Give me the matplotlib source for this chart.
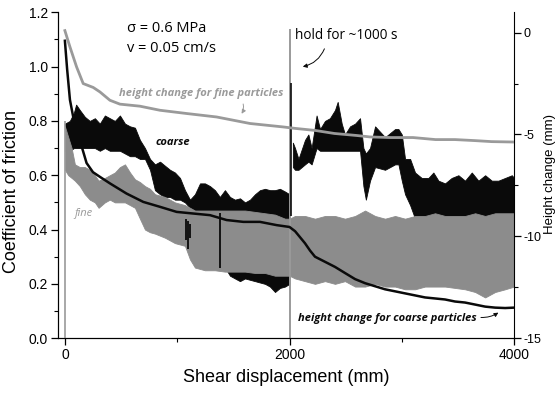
import matplotlib
matplotlib.use('Agg')
from matplotlib import pyplot as plt
from matplotlib.ticker import MultipleLocator, FixedLocator

plt.rcParams['font.family'] = ['Liberation Sans', 'DejaVu Sans']
plt.rcParams['axes.unicode_minus'] = False

# coarse particles: envelope of friction record (mm, -)
coarse_x = [0, 44, 80, 100, 133, 178, 222, 267, 311, 356, 400, 445, 490, 535, 580,
            624, 668, 713, 758, 802, 847, 891, 936, 980, 1025, 1069, 1114, 1158, 1203,
            1247, 1292, 1336, 1380, 1425, 1470, 1514, 1559, 1604, 1648, 1693, 1737,
            1782, 1826, 1871, 1915, 1960, 2000]
coarse_hi = [0.79, 0.80, 0.83, 0.86, 0.84, 0.815, 0.80, 0.81, 0.79, 0.82, 0.81, 0.80,
             0.82, 0.79, 0.78, 0.775, 0.73, 0.70, 0.66, 0.64, 0.65, 0.635, 0.62, 0.61,
             0.59, 0.545, 0.51, 0.53, 0.57, 0.57, 0.56, 0.545, 0.52, 0.545, 0.52, 0.51,
             0.515, 0.50, 0.51, 0.53, 0.545, 0.55, 0.545, 0.545, 0.55, 0.54, 0.53]
coarse_lo = [0.69, 0.69, 0.70, 0.70, 0.70, 0.70, 0.70, 0.70, 0.69, 0.70, 0.69, 0.69,
             0.69, 0.68, 0.67, 0.67, 0.66, 0.66, 0.62, 0.545, 0.53, 0.52, 0.52, 0.51,
             0.51, 0.50, 0.48, 0.47, 0.46, 0.46, 0.46, 0.46, 0.46, 0.26, 0.23, 0.22,
             0.21, 0.22, 0.215, 0.21, 0.205, 0.20, 0.19, 0.17, 0.185, 0.19, 0.20]

# coarse particles after the hold
coarse2_x = [2030, 2049, 2080, 2138, 2168, 2197, 2241, 2272, 2316, 2360, 2405, 2429,
             2465, 2494, 2539, 2584, 2628, 2658, 2680, 2717, 2762, 2851, 2940, 2970,
             3000, 3029, 3074, 3118, 3177, 3237, 3281, 3326, 3385, 3444, 3504, 3563,
             3623, 3682, 3742, 3801, 3860, 3920, 3980, 4000]
coarse2_hi = [0.72, 0.70, 0.66, 0.73, 0.75, 0.70, 0.82, 0.77, 0.80, 0.81, 0.84, 0.87,
              0.79, 0.75, 0.78, 0.79, 0.81, 0.70, 0.68, 0.70, 0.78, 0.74, 0.77, 0.77,
              0.75, 0.66, 0.66, 0.61, 0.59, 0.59, 0.61, 0.58, 0.57, 0.59, 0.60, 0.58,
              0.61, 0.58, 0.60, 0.58, 0.58, 0.59, 0.60, 0.59]
coarse2_lo = [0.63, 0.62, 0.62, 0.64, 0.65, 0.64, 0.70, 0.69, 0.69, 0.69, 0.69, 0.69,
              0.69, 0.69, 0.69, 0.69, 0.69, 0.56, 0.51, 0.58, 0.63, 0.62, 0.64, 0.64,
              0.58, 0.53, 0.49, 0.44, 0.43, 0.42, 0.42, 0.42, 0.42, 0.42, 0.42, 0.42,
              0.42, 0.42, 0.42, 0.42, 0.42, 0.42, 0.42, 0.42]

# fine particles: envelope of friction record
fine_x = [0, 30, 60, 89, 133, 178, 222, 267, 300, 356, 400, 445, 490, 535, 580, 624,
          668, 713, 758, 802, 891, 980, 1069, 1114, 1158, 1247, 1336, 1425, 1514, 1604,
          1693, 1782, 1871, 1960, 2000, 2049, 2138, 2227, 2316, 2405, 2494, 2584, 2673,
          2762, 2851, 2940, 3029, 3118, 3207, 3296, 3385, 3474, 3563, 3653, 3742, 3831,
          3920, 4000]
fine_hi = [0.78, 0.74, 0.70, 0.64, 0.63, 0.63, 0.62, 0.60, 0.58, 0.59, 0.60, 0.61,
           0.63, 0.64, 0.61, 0.585, 0.575, 0.56, 0.55, 0.53, 0.52, 0.50, 0.49, 0.48,
           0.47, 0.47, 0.47, 0.47, 0.47, 0.47, 0.465, 0.46, 0.455, 0.44, 0.44, 0.45,
           0.45, 0.44, 0.45, 0.45, 0.44, 0.45, 0.47, 0.45, 0.44, 0.45, 0.44, 0.45, 0.45,
           0.46, 0.45, 0.45, 0.45, 0.46, 0.45, 0.46, 0.46, 0.46]
fine_lo = [0.62, 0.60, 0.59, 0.58, 0.56, 0.53, 0.51, 0.50, 0.48, 0.50, 0.51, 0.50,
           0.50, 0.50, 0.49, 0.48, 0.44, 0.40, 0.39, 0.385, 0.37, 0.35, 0.34, 0.29,
           0.26, 0.25, 0.25, 0.245, 0.245, 0.245, 0.24, 0.24, 0.23, 0.23, 0.23, 0.22,
           0.21, 0.20, 0.21, 0.20, 0.21, 0.19, 0.19, 0.20, 0.19, 0.19, 0.18, 0.18, 0.19,
           0.19, 0.19, 0.185, 0.18, 0.17, 0.15, 0.17, 0.18, 0.19]

# isolated stick-slip drops in the coarse record
spike_x = [1080, 1095, 1110, 1380]
spike_lo = [0.36, 0.33, 0.37, 0.26]
spike_hi = [0.44, 0.43, 0.42, 0.46]

# start of shear and the ~1000 s hold
hold_x = 2005
hold_coarse = [0.45, 0.94]
hold_fine = [0.0, 1.14]
start_fine = [0.0, 0.80]

# height change (mm)
hfine_x = [0, 45, 104, 163, 252, 312, 401, 490, 668, 846, 1084, 1351, 1648, 1945,
           2049, 2227, 2400, 2600, 2717, 2900, 3100, 3300, 3474, 3650, 3800, 4000]
hfine = [0.1, -0.7, -1.68, -2.5, -2.69, -2.91, -3.32, -3.51, -3.61, -3.81, -3.97,
         -4.14, -4.46, -4.63, -4.7, -4.8, -4.95, -5.05, -5.12, -5.15, -5.15, -5.25,
         -5.25, -5.3, -5.35, -5.37]
hcoarse_x = [0, 20, 45, 90, 134, 193, 250, 312, 401, 549, 698, 846, 995, 1143, 1292,
             1440, 1589, 1737, 1886, 2000, 2050, 2138, 2183, 2227, 2405, 2494, 2584,
             2673, 2762, 2851, 2940, 3029, 3118, 3207, 3296, 3385, 3474, 3563, 3653,
             3742, 3831, 3920, 4000]
hcoarse = [-0.4, -1.8, -3.3, -4.6, -5.3, -6.4, -6.85, -7.08, -7.4, -7.9, -8.31, -8.55,
           -8.8, -8.88, -8.96, -9.2, -9.29, -9.29, -9.45, -9.54, -9.75, -10.34, -10.7,
           -11.0, -11.5, -11.8, -12.1, -12.3, -12.45, -12.6, -12.7, -12.8, -12.9, -13.0,
           -13.05, -13.1, -13.2, -13.25, -13.35, -13.45, -13.5, -13.52, -13.5]

black = '#0a0a0a'
grey = '#8c8c8c'
lgrey = '#9a9a9a'

fig = plt.figure(figsize=(5.57, 3.96), dpi=100)
ax = fig.add_axes([0.104, 0.146, 0.819, 0.823])
ax2 = ax.twinx()

ax.fill_between(coarse_x, coarse_lo, coarse_hi, color=black, lw=0.6, zorder=2)
ax.fill_between(coarse2_x, coarse2_lo, coarse2_hi, color=black, lw=0.6, zorder=2)
ax.fill_between(fine_x, fine_lo, fine_hi, color=grey, lw=0.6, zorder=3)
ax.vlines(spike_x, spike_lo, spike_hi, color=black, lw=1.3, zorder=4)
ax.vlines([0], *start_fine, color=lgrey, lw=1.2, zorder=4)
ax.vlines([hold_x], *hold_fine, color=lgrey, lw=1.4, zorder=4)
ax.vlines([hold_x + 10], *hold_coarse, color=black, lw=1.2, zorder=4)

ax.set_xlim(-62, 4000)
ax.set_ylim(0, 1.2)
ax2.set_ylim(-15, 1.0)

ax2.plot(hfine_x, hfine, color=lgrey, lw=2.0, zorder=5)
ax2.plot(hcoarse_x, hcoarse, color=black, lw=1.8, zorder=5)

for a in (ax, ax2):
    a.spines['top'].set_visible(False)
    a.patch.set_visible(False)
ax.spines['right'].set_visible(False)

ax.xaxis.set_major_locator(FixedLocator([0, 2000, 4000]))
ax.xaxis.set_minor_locator(FixedLocator([1000, 3000]))
ax.yaxis.set_major_locator(MultipleLocator(0.2))
ax.yaxis.set_minor_locator(MultipleLocator(0.1))
ax.set_yticklabels(['%.1f' % v for v in ax.get_yticks()])
ax2.yaxis.set_major_locator(FixedLocator([0, -5, -10, -15]))
ax2.yaxis.set_minor_locator(FixedLocator([-2.5, -7.5, -12.5]))
ax2.set_yticklabels(['0', '-5', '-10', '-15'])

ax.tick_params(which='major', direction='out', length=5, width=0.9, labelsize=10, pad=2)
ax.tick_params(which='minor', direction='out', length=3, width=0.8)
ax2.tick_params(which='major', direction='out', length=5, width=0.9, labelsize=9, pad=2)
ax2.tick_params(which='minor', direction='out', length=3, width=0.8)

ax.set_xlabel('Shear displacement (mm)', fontsize=13, labelpad=5)
ax.set_ylabel('Coefficient of friction', fontsize=13)
ax.yaxis.set_label_coords(-0.083, 0.45)
ax2.set_ylabel('Height change (mm)', fontsize=9.5)
ax2.yaxis.set_label_coords(1.066, 0.505)

ann = dict(family=['Open Sans', 'DejaVu Sans'])
ax.text(552, 1.142, 'σ = 0.6 MPa', fontsize=10.5, va='center', **ann)
ax.text(552, 1.068, 'v = 0.05 cm/s', fontsize=10.5, va='center', **ann)
ax.text(2049, 1.116, 'hold for ~1000 s', fontsize=9.8, va='center', **ann)
ax.text(481, 0.902, 'height change for fine particles', fontsize=8, color=lgrey,
        style='italic', weight='bold', va='center', **ann)
ax.text(811, 0.722, 'coarse', fontsize=8, color=black, style='italic',
        weight='bold', va='center', **ann)
ax.text(80, 0.46, 'fine', fontsize=8, color=lgrey, style='italic', va='center', **ann)
ax.text(2076, 0.074, 'height change for coarse particles', fontsize=8, color=black,
        style='italic', weight='bold', va='center', **ann)

arr = dict(arrowstyle='-|>', lw=0.7, mutation_scale=6)
ax.annotate('', xy=(1559, 0.818), xytext=(1580, 0.872),
            arrowprops=dict(color=lgrey, connectionstyle='arc3,rad=-0.3', **arr))
ax.annotate('', xy=(2094, 0.998), xytext=(2320, 1.075),
            arrowprops=dict(color=black, connectionstyle='arc3,rad=-0.3', **arr))
ax.annotate('', xy=(3880, 0.100), xytext=(3680, 0.077),
            arrowprops=dict(color=black, connectionstyle='arc3,rad=0.2', **arr))

fig.savefig('out.png', dpi=100)
